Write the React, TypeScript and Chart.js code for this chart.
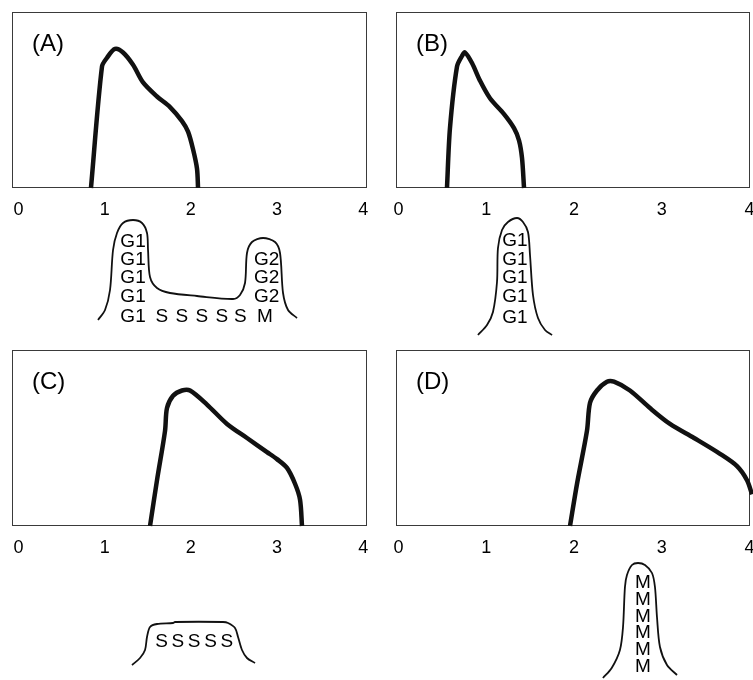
import React, { useEffect, useRef } from 'react';
import { Chart, registerables } from 'chart.js';

Chart.register(...registerables);

const FONT = '"Liberation Sans", Arial, Helvetica, sans-serif';

// x-axis tick labels (DNA content)
const tickValues = [0, 1, 2, 3, 4];

// main curves
const curveAx = [0.841, 0.969, 1.027, 1.12, 1.213, 1.329, 1.445, 1.607, 1.758, 1.897, 1.967, 2.025, 2.071, 2.083];
const curveAy = [0, 0.69, 0.74, 0.79, 0.77, 0.70, 0.60, 0.52, 0.46, 0.38, 0.32, 0.22, 0.11, 0];

const curveBx = [0.553, 0.587, 0.667, 0.724, 0.758, 0.838, 0.929, 1.043, 1.203, 1.317, 1.374, 1.408, 1.431];
const curveBy = [0, 0.34, 0.69, 0.75, 0.77, 0.71, 0.61, 0.51, 0.42, 0.34, 0.27, 0.17, 0];

const curveCx = [1.526, 1.607, 1.70, 1.723, 1.793, 1.897, 1.99, 2.187, 2.419, 2.651, 2.883, 2.999, 3.115, 3.208, 3.266, 3.289];
const curveCy = [0, 0.26, 0.54, 0.67, 0.74, 0.77, 0.77, 0.69, 0.58, 0.50, 0.42, 0.38, 0.33, 0.24, 0.15, 0];

const curveDx = [1.955, 2.035, 2.148, 2.183, 2.262, 2.376, 2.456, 2.638, 2.866, 3.094, 3.368, 3.664, 3.858, 3.972, 4.029];
const curveDy = [0, 0.24, 0.54, 0.70, 0.77, 0.82, 0.82, 0.77, 0.67, 0.58, 0.50, 0.41, 0.34, 0.26, 0.18];

// cell-cycle sketches below each panel
const sketchAx = [0.923, 1.004, 1.062, 1.097, 1.143, 1.213, 1.329, 1.433, 1.491, 1.503, 1.526, 1.607, 1.758, 2.071, 2.489, 2.570, 2.628, 2.651, 2.709, 2.837, 2.976, 3.034, 3.069, 3.127, 3.231];
const sketchAy = [1.0, 1.5, 2.5, 4.5, 5.35, 5.85, 6.0, 5.85, 5.35, 4.5, 3.15, 2.6, 2.35, 2.2, 2.05, 2.25, 2.85, 4.35, 4.9, 5.1, 4.9, 4.35, 2.35, 1.5, 1.1];
const labelsAtext = ['G1', 'G1', 'G1', 'G1', 'G1', 'S', 'S', 'S', 'S', 'S', 'M', 'G2', 'G2', 'G2'];
const labelsAx = [1.329, 1.329, 1.329, 1.329, 1.329, 1.662, 1.894, 2.126, 2.358, 2.573, 2.860, 2.879, 2.879, 2.879];
const labelsAy = [4.9, 4.0, 3.1, 2.15, 1.15, 1.15, 1.15, 1.15, 1.15, 1.15, 1.15, 4.0, 3.1, 2.15];

const sketchBx = [0.906, 1.009, 1.077, 1.123, 1.134, 1.180, 1.248, 1.351, 1.419, 1.476, 1.499, 1.533, 1.590, 1.670, 1.750];
const sketchBy = [0.25, 0.75, 1.4, 2.9, 4.6, 5.5, 5.9, 6.1, 5.9, 5.4, 4.25, 2.25, 1.1, 0.5, 0.25];
const labelsBtext = ['G1', 'G1', 'G1', 'G1', 'G1'];
const labelsBx = [1.328, 1.328, 1.328, 1.328, 1.328];
const labelsBy = [4.95, 4.0, 3.1, 2.15, 1.1];

const sketchCx = [1.317, 1.41, 1.468, 1.491, 1.526, 1.607, 1.793, 1.816, 2.373, 2.431, 2.512, 2.547, 2.593, 2.651, 2.744];
const sketchCy = [0.75, 1.1, 1.5, 2.15, 2.65, 2.8, 2.85, 2.9, 2.9, 2.85, 2.6, 2.15, 1.5, 1.1, 0.85];
const labelsCtext = ['S', 'S', 'S', 'S', 'S'];
const labelsCx = [1.659, 1.848, 2.038, 2.228, 2.417];
const labelsCy = [1.9, 1.9, 1.9, 1.9, 1.9];

const sketchDx = [2.33, 2.43, 2.524, 2.559, 2.581, 2.604, 2.661, 2.730, 2.809, 2.889, 2.923, 2.946, 2.980, 3.060, 3.174];
const sketchDy = [0.1, 0.6, 1.5, 2.65, 4.65, 5.25, 5.75, 5.85, 5.75, 5.35, 4.65, 3.15, 1.65, 0.75, 0.25];
const labelsDtext = ['M', 'M', 'M', 'M', 'M', 'M'];
const labelsDx = [2.787, 2.787, 2.787, 2.787, 2.787, 2.787];
const labelsDy = [4.85, 4.0, 3.15, 2.35, 1.5, 0.65];

const zip = (xs: number[], ys: number[]) => xs.map((x, i) => ({ x, y: ys[i] }));

const framePlugin = {
  id: 'frame',
  beforeDatasetsDraw(chart: any) {
    const { ctx, chartArea } = chart;
    ctx.save();
    ctx.strokeStyle = '#3a3a3a';
    ctx.lineWidth = 1;
    const l = Math.round(chartArea.left) + 0.5;
    const t = Math.round(chartArea.top) + 0.5;
    const r = Math.round(chartArea.right) - 0.5;
    const b = Math.round(chartArea.bottom) - 0.5;
    ctx.strokeRect(l, t, r - l, b - t);
    ctx.restore();
  },
};

const titlePlugin = {
  id: 'panelTitle',
  afterDraw(chart: any) {
    const opts = chart.options.plugins.panelTitle;
    if (!opts || !opts.text) return;
    const { ctx, chartArea } = chart;
    ctx.save();
    ctx.fillStyle = '#000';
    ctx.font = `24px ${FONT}`;
    ctx.textAlign = 'left';
    ctx.textBaseline = 'middle';
    ctx.fillText(opts.text, chartArea.left + 20, chartArea.top + 32);
    ctx.restore();
  },
};

const textLabelsPlugin = {
  id: 'textLabels',
  afterDatasetsDraw(chart: any) {
    const opts = chart.options.plugins.textLabels;
    if (!opts || !opts.text) return;
    const { ctx } = chart;
    const xs = chart.scales.x;
    const ys = chart.scales.y;
    ctx.save();
    ctx.fillStyle = '#000';
    ctx.font = `19px ${FONT}`;
    ctx.textAlign = 'center';
    ctx.textBaseline = 'middle';
    opts.text.forEach((t: string, i: number) => {
      ctx.fillText(t, xs.getPixelForValue(opts.x[i]), ys.getPixelForValue(opts.y[i]));
    });
    ctx.restore();
  },
};

type PanelProps = {
  left: number;
  top: number;
  title: string;
  xMin: number;
  xMax: number;
  padL: number;
  padR: number;
  cx: number[];
  cy: number[];
  sx: number[];
  sy: number[];
  lt: string[];
  lx: number[];
  ly: number[];
  sketchTop: number;
};

const W = 376;
const TOP_H = 230;
const SK_H = 140;

function Panel(p: PanelProps) {
  const topRef = useRef<HTMLCanvasElement>(null);
  const skRef = useRef<HTMLCanvasElement>(null);

  useEffect(() => {
    const c1 = new Chart(topRef.current!, {
      type: 'line',
      data: {
        datasets: [
          {
            data: zip(p.cx, p.cy),
            borderColor: '#111',
            borderWidth: 4.5,
            pointRadius: 0,
            fill: false,
            tension: 0.3,
            clip: false as any,
            borderCapStyle: 'butt',
            borderJoinStyle: 'round',
          } as any,
        ],
      },
      options: {
        animation: false,
        responsive: false,
        maintainAspectRatio: false,
        events: [],
        layout: { padding: { left: p.padL, right: p.padR, top: 12, bottom: 0 } },
        plugins: {
          legend: { display: false },
          tooltip: { enabled: false },
          panelTitle: { text: p.title },
        } as any,
        scales: {
          x: {
            type: 'linear',
            min: p.xMin,
            max: p.xMax,
            grid: { display: false, drawTicks: false },
            border: { display: false },
            ticks: {
              font: { family: FONT, size: 18 },
              color: '#000',
              padding: 11,
              maxRotation: 0,
              autoSkip: false,
            },
            afterBuildTicks: (s: any) => {
              s.ticks = tickValues.map((v) => ({ value: v }));
            },
            afterFit: (s: any) => {
              s.height = 42;
              s.paddingLeft = 0;
              s.paddingRight = 0;
            },
          },
          y: { display: false, min: 0, max: 1 },
        },
      },
      plugins: [framePlugin, titlePlugin],
    });

    const c2 = new Chart(skRef.current!, {
      type: 'line',
      data: {
        datasets: [
          {
            data: zip(p.sx, p.sy),
            borderColor: '#111',
            borderWidth: 1.8,
            pointRadius: 0,
            fill: false,
            tension: 0.3,
            borderJoinStyle: 'round',
          } as any,
        ],
      },
      options: {
        animation: false,
        responsive: false,
        maintainAspectRatio: false,
        events: [],
        layout: { padding: { left: p.padL, right: p.padR, top: 0, bottom: 0 } },
        plugins: {
          legend: { display: false },
          tooltip: { enabled: false },
          textLabels: { text: p.lt, x: p.lx, y: p.ly },
        } as any,
        scales: {
          x: { type: 'linear', display: false, min: p.xMin, max: p.xMax },
          y: { display: false, min: 0, max: 7 },
        },
      },
      plugins: [textLabelsPlugin],
    });

    return () => {
      c1.destroy();
      c2.destroy();
    };
  }, []);

  return (
    <>
      <canvas
        ref={topRef}
        width={W}
        height={TOP_H}
        style={{ position: 'absolute', left: p.left, top: p.top, width: W, height: TOP_H }}
      />
      <canvas
        ref={skRef}
        width={W}
        height={SK_H}
        style={{ position: 'absolute', left: p.left, top: p.sketchTop, width: W, height: SK_H }}
      />
    </>
  );
}

export default function App() {
  return (
    <div
      style={{
        position: 'absolute',
        left: 0,
        top: 0,
        width: 753,
        height: 680,
        overflow: 'hidden',
        background: '#fff',
      }}
    >
      <Panel left={0} top={0} title="(A)" xMin={-0.075} xMax={4.043} padL={12} padR={9}
        cx={curveAx} cy={curveAy} sx={sketchAx} sy={sketchAy} lt={labelsAtext} lx={labelsAx} ly={labelsAy} sketchTop={200} />
      <Panel left={377} top={0} title="(B)" xMin={-0.028} xMax={4.006} padL={19} padR={3}
        cx={curveBx} cy={curveBy} sx={sketchBx} sy={sketchBy} lt={labelsBtext} lx={labelsBx} ly={labelsBy} sketchTop={200} />
      <Panel left={0} top={338} title="(C)" xMin={-0.075} xMax={4.043} padL={12} padR={9}
        cx={curveCx} cy={curveCy} sx={sketchCx} sy={sketchCy} lt={labelsCtext} lx={labelsCx} ly={labelsCy} sketchTop={540} />
      <Panel left={377} top={338} title="(D)" xMin={-0.028} xMax={4.006} padL={19} padR={3}
        cx={curveDx} cy={curveDy} sx={sketchDx} sy={sketchDy} lt={labelsDtext} lx={labelsDx} ly={labelsDy} sketchTop={540} />
    </div>
  );
}
